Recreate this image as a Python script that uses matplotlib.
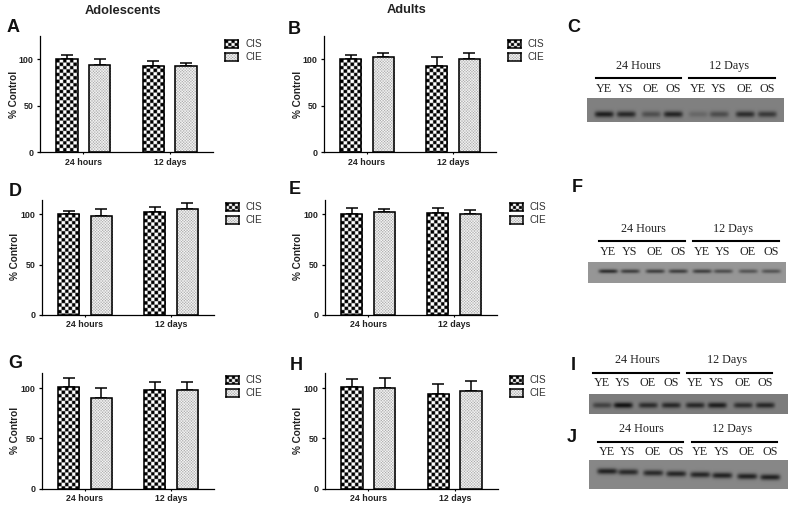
import numpy as np
import matplotlib
matplotlib.use("Agg")
import matplotlib.pyplot as plt

plt.rcParams['font.family'] = ['Liberation Sans', 'DejaVu Sans']

W, H = 793, 508
groups = ["24 hours", "12 days"]
series = ["CIS", "CIE"]

A_cis, A_cis_err = [100, 93], [5, 5.5]
A_cie, A_cie_err = [94, 92.5], [6.5, 3.5]
B_cis, B_cis_err = [100, 93], [5, 9]
B_cie, B_cie_err = [102, 100], [5, 7]
D_cis, D_cis_err = [100, 102], [3.5, 5]
D_cie, D_cie_err = [98, 105], [7, 6]
E_cis, E_cis_err = [100, 101], [6, 5]
E_cie, E_cie_err = [102, 100], [3, 4]
G_cis, G_cis_err = [101, 98], [9, 8]
G_cie, G_cie_err = [90, 98], [10, 8]
H_cis, H_cis_err = [101, 94], [8, 10]
H_cie, H_cie_err = [100, 97], [9.5, 10]

lane_labels = ["YE", "YS", "OE", "OS"]
blot_titles = ["24 Hours", "12 Days"]
C_bands = [0.80, 0.72, 0.40, 0.75, 0.20, 0.42, 0.68, 0.58]
F_bands = [0.72, 0.60, 0.60, 0.60, 0.60, 0.50, 0.45, 0.45]
I_bands = [0.50, 0.90, 0.68, 0.72, 0.72, 0.80, 0.66, 0.72]
J_bands = [0.78, 0.72, 0.72, 0.75, 0.75, 0.78, 0.78, 0.78]

fig = plt.figure(figsize=(W / 100, H / 100), dpi=100, facecolor="white")


def px_axes(x0, y_top, x1, y_bot, **kw):
    return fig.add_axes([x0 / W, 1 - y_bot / H, (x1 - x0) / W, (y_bot - y_top) / H], **kw)


def ftext(x, y, s, **kw):
    kw.setdefault("ha", "center")
    kw.setdefault("va", "center")
    return fig.text(x / W, 1 - y / H, s, **kw)


def checker(h, w, size):
    yy, xx = np.indices((max(int(h * 4), 1), max(int(w * 4), 1))) / 4
    return ((np.floor(xx / size) + np.floor(yy / size)) % 2).astype(float)


def dots(h, w, size):
    yy, xx = np.indices((max(int(h * 4), 1), max(int(w * 4), 1))) / 4
    a = (xx % (2 * size)) / (2 * size) - .5
    b = (yy % (2 * size)) / (2 * size) - .5
    c = ((xx + size) % (2 * size)) / (2 * size) - .5
    d = ((yy + size) % (2 * size)) / (2 * size) - .5
    m = np.minimum(a * a + b * b, c * c + d * d)
    return 1 - 0.5 * (m < 0.05)


def textured_bar(ax, x, h, w, err, kind, ppx, ppy):
    r = ax.bar(x, h, width=w, facecolor="white", edgecolor="none", zorder=2)[0]
    bw, bh = w * ppx, h * ppy
    tex = checker(bh, bw, 3.4) if kind == "CIS" else dots(bh, bw, 1.4)
    im = ax.imshow(tex, extent=[x - w / 2, x + w / 2, 0, h], cmap="gray", vmin=0, vmax=1,
                   aspect="auto", interpolation="bilinear", zorder=3)
    im.set_clip_path(r)
    ax.bar(x, h, width=w, facecolor="none", edgecolor="black", linewidth=1.15, zorder=4)
    ax.errorbar(x, h, yerr=[[0], [err]], color="black", elinewidth=1.1, capsize=4,
                capthick=1.1, zorder=1)


def panel(rect, ytop, cis, cis_err, cie, cie_err, legend_xy, letter, letter_xy, ylabel_x):
    x0, y100, y0, x1 = rect
    y_top = y0 - (y0 - y100) * ytop / 100.0
    ax = px_axes(x0, y_top, x1, y0)
    ax.set_facecolor("none")
    ppx = (x1 - x0) / 2.0
    ppy = (y0 - y100) / 100.0
    w, off = 0.25, 0.19
    for i in range(len(groups)):
        textured_bar(ax, i - off, cis[i], w, cis_err[i], "CIS", ppx, ppy)
        textured_bar(ax, i + off, cie[i], w, cie_err[i], "CIE", ppx, ppy)
    ax.set_xlim(-0.5, 1.5)
    ax.set_ylim(0, ytop)
    ax.set_yticks([0, 50, 100])
    ax.set_xticks(range(len(groups)))
    ax.set_xticklabels(groups)
    ax.tick_params(axis="x", length=1.2, width=0.8, pad=2.8, labelsize=6.4)
    ax.tick_params(axis="y", length=2.5, width=0.9, pad=2, labelsize=6.4)
    for t in ax.get_xticklabels() + ax.get_yticklabels():
        t.set_fontweight("bold")
        t.set_color("#222222")
    for s in ("top", "right"):
        ax.spines[s].set_visible(False)
    for s in ("left", "bottom"):
        ax.spines[s].set_linewidth(0.9)
    ftext(ylabel_x, y0 - 58, "% Control", rotation=90, fontsize=7.2,
          fontweight="bold", color="#222222")
    lx, ly = legend_xy
    for j, name in enumerate(series):
        yc = ly + j * 13
        la = px_axes(lx, yc - 4, lx + 13, yc + 4)
        la.set_xticks([]); la.set_yticks([])
        tex = checker(8, 13, 3.0) if name == "CIS" else dots(8, 13, 1.4)
        la.imshow(tex, cmap="gray", vmin=0, vmax=1, aspect="auto", interpolation="bilinear")
        for s in la.spines.values():
            s.set_linewidth(1.1)
        ftext(lx + 20, yc, name, ha="left", fontsize=7.2, color="#333333")
    ftext(letter_xy[0], letter_xy[1], letter, fontsize=13, fontweight="bold", color="#111111")


panel((40, 59.3, 152, 213), 125, A_cis, A_cis_err, A_cie, A_cie_err, (225, 44), "A", (13, 28), 14)
panel((324, 59.3, 152, 496), 125, B_cis, B_cis_err, B_cie, B_cie_err, (508, 44), "B", (294, 29), 298)
panel((42, 214.3, 314.7, 214), 114, D_cis, D_cis_err, D_cie, D_cie_err, (226, 207), "D", (15, 191), 15)
panel((325, 214.3, 314.7, 497), 114, E_cis, E_cis_err, E_cie, E_cie_err, (510, 207), "E", (295, 190), 298)
panel((42, 388, 488.7, 214), 115, G_cis, G_cis_err, G_cie, G_cie_err, (226, 380), "G", (15, 364), 15)
panel((325, 388, 488.7, 498), 115, H_cis, H_cis_err, H_cie, H_cie_err, (510, 380), "H", (296, 365), 298)

ftext(123, 11, "Adolescents", fontsize=9.3, fontweight="bold", color="#222222")
ftext(407, 10, "Adults", fontsize=9.3, fontweight="bold", color="#222222")


def blot(rect, bands, lanes_x, band_y, slope, bg, band_h, band_w, title_x, title_y, lines_x,
         line_y, label_y, letter, letter_xy):
    x0, y0, x1, y1 = rect
    h, w = int((y1 - y0) * 2), int((x1 - x0) * 2)
    yy, xx = np.indices((h, w))
    px = x0 + xx / 2
    py = y0 + yy / 2
    img = np.full((h, w), float(bg))
    for lx, v in zip(lanes_x, bands):
        cy = band_y + slope * (lx - x0)
        g = np.exp(-((py - cy) / band_h) ** 2) * np.exp(-(np.abs(px - lx) / band_w) ** 6)
        img -= g * v * bg * 0.95
    ax = px_axes(x0, y0, x1, y1)
    ax.imshow(np.clip(img, 0, 255), cmap="gray", vmin=0, vmax=255, aspect="auto",
              interpolation="bilinear")
    ax.axis("off")
    for t, tx in zip(blot_titles, title_x):
        ftext(tx, title_y, t, family=["Liberation Serif"], fontsize=8.7, color="#222222")
    for a, b in lines_x:
        fig.add_artist(plt.Line2D([a / W, b / W], [1 - line_y / H] * 2, color="black", lw=1.5))
    for i, lx in enumerate(lanes_x):
        ftext(lx, label_y, lane_labels[i % 4], family=["Liberation Serif"], fontsize=8.7,
              color="#222222")
    ftext(letter_xy[0], letter_xy[1], letter, fontsize=13, fontweight="bold", color="#111111")


blot((587, 98, 784, 122), C_bands, [604, 626, 651, 673, 698, 719, 745, 767], 114, 0, 128, 3.0, 9.5,
     (638, 729), 66, [(596, 681), (689, 775)], 78, 89, "C", (574, 28))
blot((588, 262, 786, 283), F_bands, [608, 630, 655, 678, 702, 723, 748, 771], 271, 0, 150, 2.0, 9.5,
     (643, 733), 229, [(599, 685), (693, 779)], 241, 252, "F", (577, 188))
blot((589, 394, 788, 414), I_bands, [602, 623, 648, 671, 695, 717, 743, 765], 405, 0, 125, 2.8, 9.5,
     (637, 727), 360, [(593, 679), (687, 772)], 373, 383, "I", (573, 365))
blot((589, 460, 788, 489), J_bands, [607, 628, 653, 676, 700, 722, 747, 770], 471, 0.035, 135, 2.8, 10,
     (641, 732), 429, [(598, 683), (692, 777)], 442, 452, "J", (572, 437))

fig.savefig("out.png", dpi=100, facecolor="white")
